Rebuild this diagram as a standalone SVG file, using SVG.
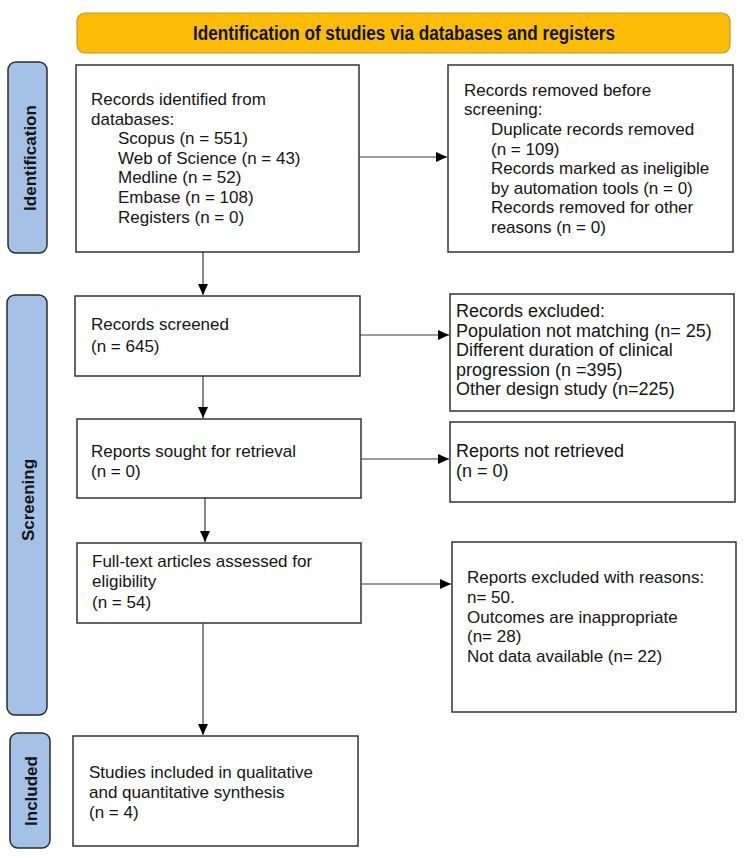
<svg xmlns="http://www.w3.org/2000/svg" width="750" height="858" viewBox="0 0 750 858">
<defs>
<style>
.box{fill:#ffffff;stroke:#333333;stroke-width:1.5}
.lab{fill:#a3c2e6;stroke:#2b2b2b;stroke-width:1.5}
.t{font-family:"Liberation Sans",Arial,sans-serif;font-size:17px;fill:#141414}
.t18{font-size:18px}
.lt{font-family:"Liberation Sans",Arial,sans-serif;font-size:17px;font-weight:bold;fill:#141414;text-anchor:middle}
.con{stroke:#3a3a3a;stroke-width:1.2;fill:none;marker-end:url(#ah)}
</style>
<marker id="ah" markerWidth="12" markerHeight="10" refX="11" refY="5" orient="auto" markerUnits="userSpaceOnUse">
<path d="M0,0 L11,5 L0,10 z" fill="#000000"/>
</marker>
</defs>
<rect width="750" height="858" fill="#ffffff"/>

<g id="banner">
<rect x="77" y="13" width="653" height="40" rx="8" fill="#fdbd07" stroke="#c39a2c" stroke-width="1.2"/>
<text x="193" y="40" font-family="'Liberation Sans',Arial,sans-serif" font-size="20" font-weight="bold" fill="#141414" textLength="422" lengthAdjust="spacingAndGlyphs">Identification of studies via databases and registers</text>
</g>

<g id="label-identification">
<rect class="lab" x="8" y="62" width="39" height="191" rx="8"/>
<text class="lt" transform="translate(35.5,158) rotate(-90)">Identification</text>
</g>
<g id="label-screening">
<rect class="lab" x="7" y="295" width="40" height="420" rx="8"/>
<text class="lt" transform="translate(33.5,500) rotate(-90)">Screening</text>
</g>
<g id="label-included">
<rect class="lab" x="10" y="733" width="40" height="115" rx="8"/>
<text class="lt" transform="translate(36.5,791) rotate(-90)">Included</text>
</g>

<g id="records-identified">
<rect class="box" x="76" y="65" width="283" height="187"/>
<text class="t" x="91" y="105">Records identified from</text>
<text class="t" x="91" y="124.6">databases:</text>
<text class="t" x="118" y="144.2">Scopus (n = 551)</text>
<text class="t" x="118" y="163.8">Web of Science (n = 43)</text>
<text class="t" x="118" y="183.4">Medline (n = 52)</text>
<text class="t" x="118" y="203">Embase (n = 108)</text>
<text class="t" x="118" y="222.6">Registers (n = 0)</text>
</g>

<g id="records-removed">
<rect class="box" x="448" y="65" width="285" height="187"/>
<text class="t" x="464" y="95.7">Records removed before</text>
<text class="t" x="464" y="115.3">screening:</text>
<text class="t" x="491" y="134.9">Duplicate records removed</text>
<text class="t" x="491" y="154.5">(n = 109)</text>
<text class="t" x="491" y="174.1">Records marked as ineligible</text>
<text class="t" x="491" y="193.7">by automation tools (n = 0)</text>
<text class="t" x="491" y="213.3">Records removed for other</text>
<text class="t" x="491" y="232.9">reasons (n = 0)</text>
</g>

<g id="records-screened">
<rect class="box" x="75" y="296" width="285" height="80"/>
<text class="t" x="91" y="330">Records screened</text>
<text class="t" x="91" y="352">(n = 645)</text>
</g>

<g id="records-excluded">
<rect class="box" x="450" y="294" width="284" height="117"/>
<text class="t t18" x="456" y="317">Records excluded:</text>
<text class="t t18" x="456" y="336.5">Population not matching (n= 25)</text>
<text class="t t18" x="456" y="356">Different duration of clinical</text>
<text class="t t18" x="456" y="375.5">progression (n =395)</text>
<text class="t t18" x="456" y="395">Other design study (n=225)</text>
</g>

<g id="reports-sought">
<rect class="box" x="77" y="419" width="284" height="79"/>
<text class="t" x="91" y="457">Reports sought for retrieval</text>
<text class="t" x="91" y="477">(n = 0)</text>
</g>

<g id="reports-not-retrieved">
<rect class="box" x="450" y="422" width="285" height="80"/>
<text class="t t18" x="456" y="457">Reports not retrieved</text>
<text class="t t18" x="456" y="477">(n = 0)</text>
</g>

<g id="full-text">
<rect class="box" x="77" y="543" width="284" height="80"/>
<text class="t" x="92" y="567">Full-text articles assessed for</text>
<text class="t" x="92" y="587">eligibility</text>
<text class="t" x="92" y="608">(n = 54)</text>
</g>

<g id="reports-excluded">
<rect class="box" x="452" y="542" width="284" height="170"/>
<text class="t" x="467" y="583">Reports excluded with reasons:</text>
<text class="t" x="467" y="603">n= 50.</text>
<text class="t" x="467" y="622.5">Outcomes are inappropriate</text>
<text class="t" x="467" y="642">(n= 28)</text>
<text class="t" x="467" y="662">Not data available (n= 22)</text>
</g>

<g id="studies-included">
<rect class="box" x="73" y="736" width="285" height="110"/>
<text class="t" x="89" y="778">Studies included in qualitative</text>
<text class="t" x="89" y="798">and quantitative synthesis</text>
<text class="t" x="89" y="818">(n = 4)</text>
</g>

<g id="connectors">
<line class="con" x1="203" y1="252" x2="203" y2="295"/>
<line class="con" x1="359" y1="157" x2="447" y2="157"/>
<line class="con" x1="360" y1="335" x2="449" y2="335"/>
<line class="con" x1="203" y1="376" x2="203" y2="418"/>
<line class="con" x1="361" y1="459" x2="449" y2="459"/>
<line class="con" x1="205" y1="498" x2="205" y2="542"/>
<line class="con" x1="361" y1="584" x2="451" y2="584"/>
<line class="con" x1="203" y1="623" x2="203" y2="735"/>
</g>
</svg>
